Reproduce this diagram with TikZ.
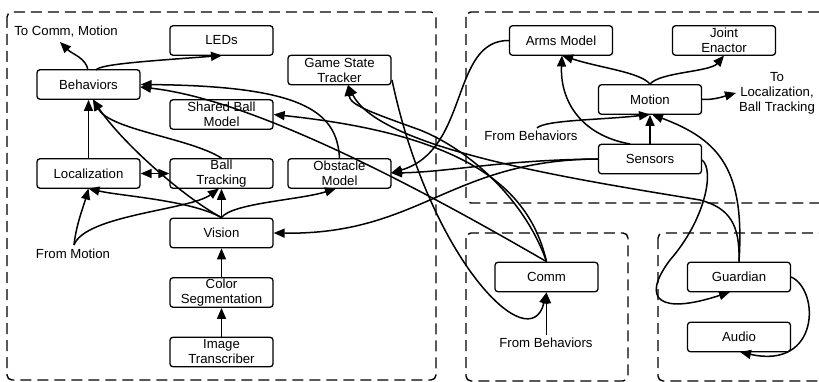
\documentclass[tikz,border=0pt]{standalone}
\usepackage{fontspec}
\setmainfont{Liberation Sans}
\usetikzlibrary{arrows.meta}
\begin{document}
\begin{tikzpicture}[x=1pt,y=-1pt,
  box/.style={draw,line width=1.3pt,rounded corners=3pt,minimum width=103pt,minimum height=29.5pt,inner sep=0pt,align=center,font=\fontsize{13.2}{15}\selectfont},
  lbl/.style={inner sep=0pt,align=center,font=\fontsize{13.2}{15}\selectfont},
  grp/.style={draw,line width=1.4pt,dash pattern=on 11pt off 6pt,rounded corners=5pt},
  con/.style={line width=1.5pt,-{Triangle[length=11pt,width=9pt]}}]
\clip (0,0) rectangle (819,382);
% groups
\draw[grp] (7,12) rectangle (436,380);
\draw[grp] (466,12) rectangle (840,203);
\draw[grp] (466,233) rectangle (628,381);
\draw[grp] (658,233) rectangle (840,381);
% nodes
\node[box] (leds) at (221.5,40.5) {LEDs};
\node[box] (beh) at (88.5,84.5) {Behaviors};
\node[box] (sbm) at (221.5,114.5) {Shared Ball\\Model};
\node[box] (loc) at (88.5,173.5) {Localization};
\node[box] (bt) at (221.5,173.5) {Ball\\Tracking};
\node[box] (gst) at (339.5,70) {Game State\\Tracker};
\node[box] (obs) at (339.5,173.5) {Obstacle\\Model};
\node[box] (vis) at (221.5,233) {Vision};
\node[box] (cs) at (221.5,292.5) {Color\\Segmentation};
\node[box] (it) at (221.5,352) {Image\\Transcriber};
\node[box] (arms) at (561,40.5) {Arms Model};
\node[box] (je) at (724,40.5) {Joint\\Enactor};
\node[box] (mot) at (650,99.5) {Motion};
\node[box] (sen) at (650,159) {Sensors};
\node[box] (comm) at (546.5,277) {Comm};
\node[box] (guard) at (739,277) {Guardian};
\node[box] (aud) at (739,337) {Audio};
% labels
\node[lbl] (tocm) at (66,32) {To Comm, Motion};
\node[lbl] (fm) at (73,254) {From Motion};
\node[lbl] (tolb) at (777,93) {To\\Localization,\\Ball Tracking};
\node[lbl] (fb1) at (531,136) {From Behaviors};
\node[lbl] (fb2) at (546,343) {From Behaviors};
% coordinates
\coordinate (tocmA) at (60,42);
\coordinate (fmA) at (74,245);
\coordinate (fb1A) at (537,128);
\coordinate (fb2A) at (546.5,335);
\coordinate (tolbA) at (736,93);
% edges
\draw[con] (88,70) .. controls (86,58) and (72,54) .. (tocmA);
\draw[con] (96,70) .. controls (100,64) and (150,61) .. (222,55.5);
\draw[con] (loc.north) -- (beh.south);
\draw[con,{Triangle[length=11pt,width=9pt]}-{Triangle[length=11pt,width=9pt]}] (loc.east) -- (bt.west);
\draw[con] (bt.north) .. controls (190,138) and (110,130) .. (93,99.5);
\draw[con] (vis.north) .. controls (180,195) and (120,140) .. (93,99.5);
\draw[con] (vis.north) .. controls (190,200) and (120,196) .. (88.5,188.5);
\draw[con] (vis.north) -- (bt.south);
\draw[con] (vis.north) .. controls (232,203) and (300,200) .. (336,188.5);
\draw[con] (fmA) .. controls (76,225) and (84,205) .. (88.5,188.5);
\draw[con] (fmA) .. controls (85,215) and (190,210) .. (219,188.5);
\draw[con] (cs.north) -- (vis.south);
\draw[con] (it.north) -- (cs.south);
\draw[con] (obs.north) .. controls (337,110) and (300,86) .. (beh.east);
\draw[con] (comm.north) .. controls (440,200) and (260,100) .. (140,87);
\draw[con] (comm.north) .. controls (530,190) and (470,135) .. (sbm.east);
\draw[con] (comm.north) .. controls (525,200) and (470,150) .. (420,130) .. controls (370,112) and (350,105) .. (348,85);
\draw[con] (guard.north) .. controls (740,225) and (730,208) .. (700,200) .. controls (580,180) and (380,150) .. (348,85);
\draw[con] (392,80) .. controls (430,260) and (530,360) .. (comm.south);
\draw[con] (fb2A) -- (comm.south);
\draw[con] (arms.west) .. controls (450,40) and (470,150) .. (391,173);
\draw[con] (sen.west) .. controls (500,160) and (450,172) .. (391,173);
\draw[con] (sen.west) .. controls (450,160) and (420,235) .. (vis.east);
\draw[con] (sen.north) -- (mot.south);
\draw[con] (630,144) .. controls (580,135) and (560,100) .. (562,55.5);
\draw[con] (fb1A) .. controls (545,120) and (600,120) .. (650,114.5);
\draw[con] (guard.north) .. controls (745,170) and (720,140) .. (652,114.5);
\draw[con] (mot.north) .. controls (640,72) and (600,68) .. (562,55.5);
\draw[con] (mot.north) .. controls (660,72) and (710,72) .. (724,55.5);
\draw[con] (mot.east) .. controls (715,100) and (725,96) .. (tolbA);
\draw[con] (702,160) .. controls (715,170) and (705,220) .. (670,260) .. controls (640,300) and (660,315) .. (730,292);
\draw[con] (guard.east) .. controls (820,290) and (820,370) .. (740,352);
\end{tikzpicture}
\end{document}
